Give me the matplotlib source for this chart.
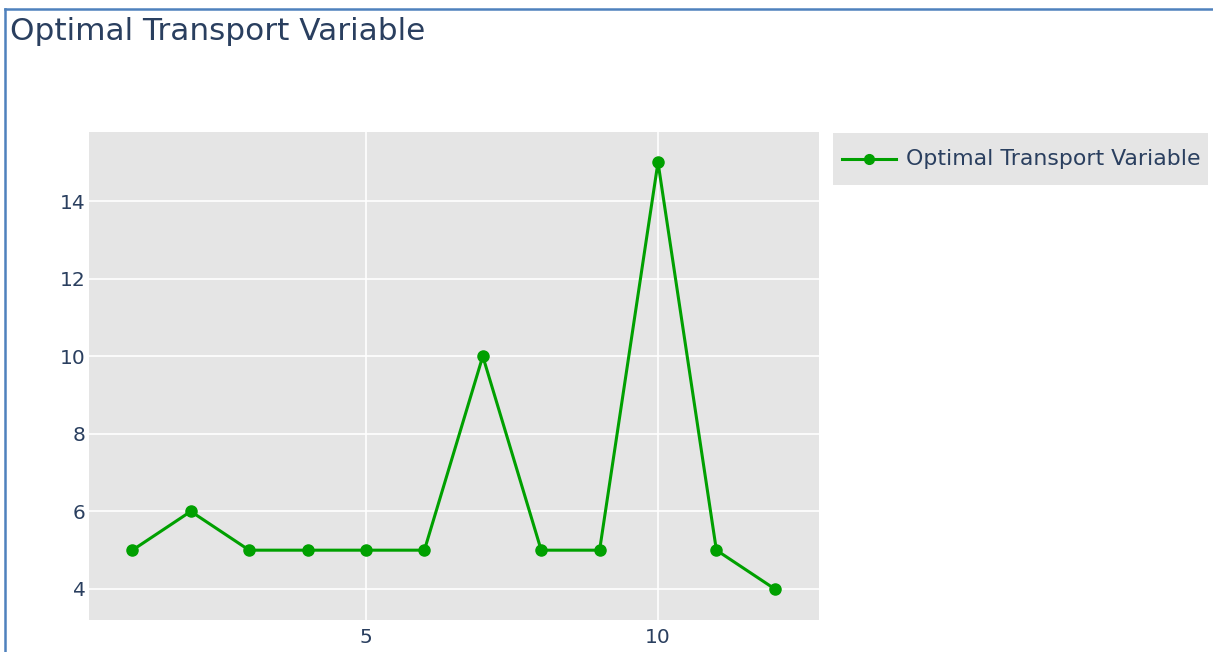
import matplotlib
matplotlib.use('Agg')
from matplotlib import pyplot as plt
from matplotlib.lines import Line2D

# data
steps = [1, 2, 3, 4, 5, 6, 7, 8, 9, 10, 11, 12]
values = [5, 6, 5, 5, 5, 5, 10, 5, 5, 15, 5, 4]
series_name = 'Optimal Transport Variable'
title = 'Optimal Transport Variable'
x_ticks = [5, 10]
y_ticks = [4, 6, 8, 10, 12, 14]

W, H = 1213, 652
text_color = '#2a3f5f'
green = '#00a000'

fig = plt.figure(figsize=(W / 100, H / 100), dpi=100)
ax = fig.add_axes([89 / W, 1 - 620 / H, (819 - 89) / W, (620 - 132) / H])
ax.set_facecolor('#e5e5e5')
ax.plot(steps, values, '-o', color=green, lw=2.2, ms=8, label=series_name, zorder=3)

ax.set_xlim(0.257, 12.757)
ax.set_ylim(3.2, 15.78)
ax.set_xticks(x_ticks)
ax.set_yticks(y_ticks)
ax.grid(True, color='white', lw=1.2)
ax.set_axisbelow(True)
for s in ax.spines.values():
    s.set_visible(False)
ax.tick_params(axis='both', length=0, labelsize=14.5, labelcolor=text_color)
ax.tick_params(axis='x', pad=6)
ax.tick_params(axis='y', pad=2.5)

fig.text(10 / W, 1 - 32 / H, title, fontsize=22.4, color=text_color, ha='left', va='center')

# legend box
fig.patches.append(plt.Rectangle((833 / W, 1 - 185 / H), (1208 - 833) / W, 52 / H,
                                 transform=fig.transFigure, facecolor='#e5e5e5',
                                 edgecolor='none', zorder=0))
fig.lines.append(Line2D([842 / W, 896 / W], [1 - 159 / H, 1 - 159 / H],
                        transform=fig.transFigure, color=green, lw=2.2))
fig.lines.append(Line2D([869 / W], [1 - 159 / H], transform=fig.transFigure,
                        color=green, marker='o', ms=7))
fig.text(906 / W, 1 - 159 / H, series_name, fontsize=15.8, color=text_color,
         ha='left', va='center')

# blue frame
border = '#4f81bd'
fig.lines.append(Line2D([4.5 / W, 4.5 / W], [0, 1 - 8.5 / H], transform=fig.transFigure,
                        color=border, lw=1.8))
fig.lines.append(Line2D([4.5 / W, 1], [1 - 8.5 / H, 1 - 8.5 / H], transform=fig.transFigure,
                        color=border, lw=1.8))

fig.savefig('out.png', dpi=100)
